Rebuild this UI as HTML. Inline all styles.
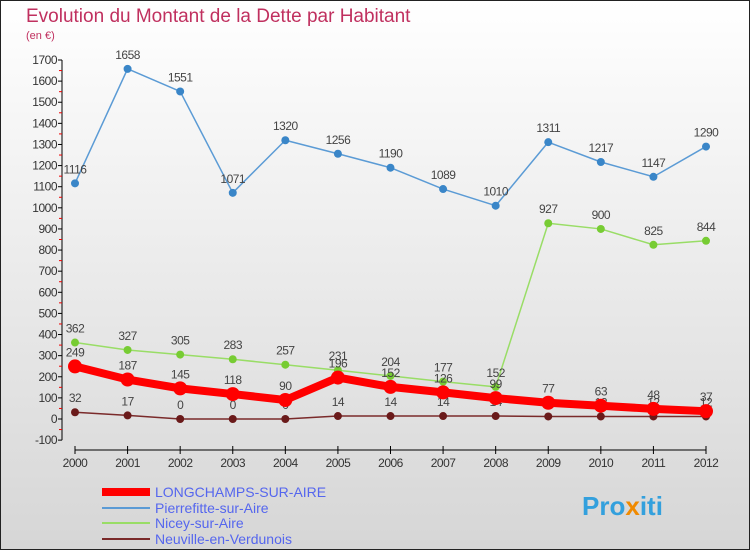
<!DOCTYPE html>
<html><head><meta charset="utf-8"><style>
body{margin:0;width:750px;height:550px;overflow:hidden;font-family:"Liberation Sans",sans-serif}
</style></head><body>
<svg width="750" height="550" style="font-family:'Liberation Sans',sans-serif">
<defs><linearGradient id="bg" x1="0" y1="0" x2="0" y2="1"><stop offset="0" stop-color="#ffffff"/><stop offset="1" stop-color="#d6d6d6"/></linearGradient></defs>
<rect x="0.5" y="0.5" width="749" height="549" fill="url(#bg)" stroke="#222"/>
<text x="26" y="22" font-size="19" fill="#c0305f">Evolution du Montant de la Dette par Habitant</text>
<text x="26" y="39" font-size="11" fill="#c0305f">(en €)</text>
<g id="axes"></g><g id="series"></g>
<g font-size="14" fill="#5566ee">
<line x1="102" y1="492" x2="150" y2="492" stroke="#ff0000" stroke-width="8"/>
<text x="155" y="497">LONGCHAMPS-SUR-AIRE</text>
<line x1="102" y1="508" x2="150" y2="508" stroke="#5b9bd5" stroke-width="2"/>
<text x="155" y="513">Pierrefitte-sur-Aire</text>
<line x1="102" y1="523" x2="150" y2="523" stroke="#99dd66" stroke-width="2"/>
<text x="155" y="528">Nicey-sur-Aire</text>
<line x1="102" y1="539" x2="150" y2="539" stroke="#7a2a2a" stroke-width="2"/>
<text x="155" y="544">Neuville-en-Verdunois</text>
</g>
<text x="582" y="515" font-size="26" font-weight="bold" fill="#33a0dd">Pro<tspan fill="#f08a00">x</tspan>iti</text>
</svg>
<script>
const years=["2000","2001","2002","2003","2004","2005","2006","2007","2008","2009","2010","2011","2012"];
const yTicks=[-100,0,100,200,300,400,500,600,700,800,900,1000,1100,1200,1300,1400,1500,1600,1700];
const longchamps=[249,187,145,118,90,196,152,126,99,77,63,48,37];
const pierrefitte=[1116,1658,1551,1071,1320,1256,1190,1089,1010,1311,1217,1147,1290];
const nicey=[362,327,305,283,257,231,204,177,152,927,900,825,844];
const neuville=[32,17,0,0,0,14,14,14,14,12,12,12,12];
const NS="http://www.w3.org/2000/svg";
const X=i=>75+i*(706-75)/(years.length-1);
const Y=v=>419-v*(419-60)/1700;
function mk(t,a,p){const e=document.createElementNS(NS,t);for(const k in a)e.setAttribute(k,a[k]);p.appendChild(e);return e;}
const ax=document.getElementById('axes');
let yl=mk('line',{x1:62,y1:Y(1700),x2:62,y2:Y(-100),stroke:'#000'},ax);


yTicks.forEach(v=>{
 mk('line',{x1:58,y1:Y(v),x2:62,y2:Y(v),stroke:'#000'},ax);
 if(v<1700) mk('line',{x1:59,y1:Y(v+50),x2:62,y2:Y(v+50),stroke:'#e00'},ax);
 const t=mk('text',{x:57,y:Y(v)+4,'font-size':12,'text-anchor':'end',fill:'#333','letter-spacing':'-0.5'},ax);
 t.textContent=v;
 
 
});
let xl=mk('line',{x1:X(0),y1:450,x2:X(12),y2:450,stroke:'#000'},ax);


years.forEach((y,i)=>{
 mk('line',{x1:X(i),y1:446,x2:X(i),y2:454,stroke:'#000'},ax);
 const t=mk('text',{x:X(i),y:467,'font-size':12,'text-anchor':'middle',fill:'#333','letter-spacing':'-0.5'},ax);
 t.textContent=y;
 
 
});
const sg=document.getElementById('series');
function series(name,data,color,w,r,dot){
 const g=mk('g',{},sg);
 
 
 const l=mk('polyline',{points:data.map((v,i)=>X(i)+','+Y(v)).join(' '),fill:'none',stroke:color,'stroke-width':w,'stroke-linejoin':'round'},g);
 
 
 data.forEach((v,i)=>{
  const c=mk('circle',{cx:X(i),cy:Y(v),r:r,fill:dot},g);
  
  
  const t=mk('text',{x:X(i),y:Y(v)-10,'font-size':12,'text-anchor':'middle',fill:'#444','letter-spacing':'-0.5'},g);
  t.textContent=v;
  
  
 });
}
series('pierrefitte',pierrefitte,'#5b9bd5',1.5,4,'#3a86c8');
series('nicey',nicey,'#99dd66',1.5,4,'#77cc33');
series('neuville',neuville,'#7a2a2a',1.5,4,'#6a1a1a');
series('longchamps',longchamps,'#ff0000',8,7,'#ff0000');
</script>
</body></html>
